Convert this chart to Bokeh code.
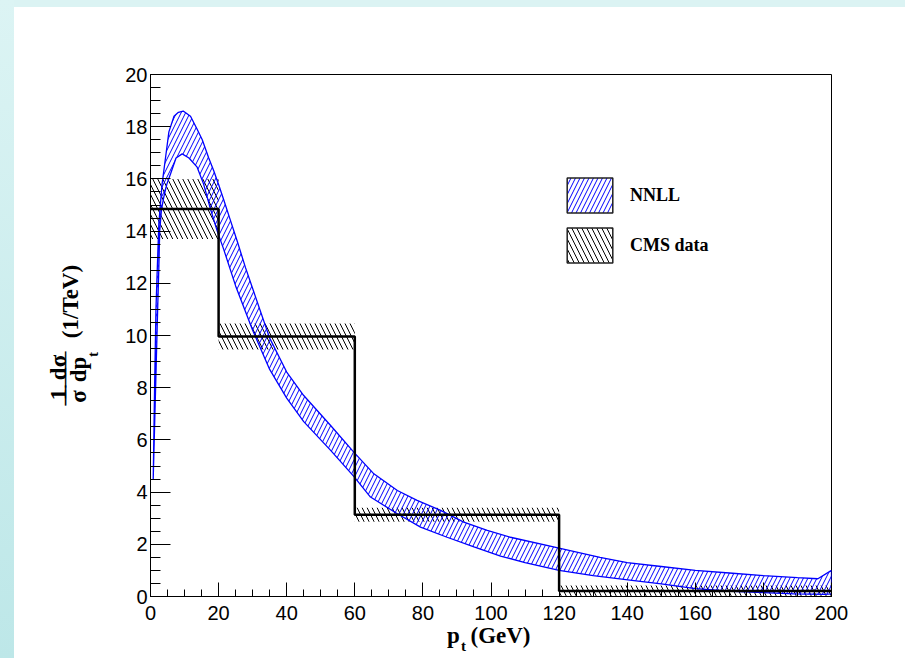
import numpy as np
from bokeh.plotting import figure
from bokeh.models import (Range1d, FixedTicker, Label, Legend, LegendItem,
                          GlobalInlineStyleSheet)
from bokeh.embed import file_html
from bokeh.resources import INLINE

# ---------------- data ----------------
cms_edges = [0, 20, 60, 120, 200]
cms_vals = [14.85, 9.96, 3.13, 0.21]
cms_errs = [1.15, 0.50, 0.27, 0.21]

nnll_pt_up = [0.8, 1.2, 1.6, 2.0, 2.45, 3.4, 4.4, 5.4, 6.9, 8.2, 9.6, 11.75, 13.7, 15.2,
              17.1, 18.6, 20.1, 21.5, 23.5, 25.5, 27.9, 30, 35, 40, 45, 52.9, 59.7, 65.6,
              72.5, 78.3, 85.2, 92, 98.9, 105.7, 120, 132, 140, 150, 160, 170, 180, 190,
              196, 200]
nnll_up = [4.5, 8.0, 11.0, 12.6, 14.3, 15.8, 16.8, 17.8, 18.4, 18.55, 18.6, 18.4, 17.9, 17.5,
           16.8, 16.3, 15.75, 15.2, 14.4, 13.6, 12.6, 11.8, 9.9, 8.6, 7.7, 6.55, 5.53, 4.70,
           4.06, 3.68, 3.30, 2.85, 2.53, 2.27, 1.85, 1.5, 1.3, 1.15, 1.0, 0.9, 0.8, 0.72,
           0.68, 1.0]
nnll_pt_lo = [0.8, 1.2, 1.7, 2.1, 2.45, 2.7, 3.2, 3.9, 4.8, 5.9, 7.5, 9.3, 11.3, 13.7, 15.6,
              17.6, 19.6, 21.5, 25, 30, 35, 40, 45, 52.9, 59.7, 64.6, 72.5, 79.3, 87.1, 95,
              102.8, 110, 120, 130, 142, 150, 160, 171, 180, 189, 198, 200]
nnll_lo = [4.5, 6.5, 9.0, 11.0, 12.6, 14.0, 14.8, 15.3, 15.8, 16.2, 16.8, 16.96, 16.8, 16.45,
           15.8, 14.85, 14.0, 13.3, 11.9, 10.2, 8.7, 7.6, 6.7, 5.6, 4.6, 3.81, 3.17, 2.66,
           2.27, 1.9, 1.55, 1.3, 1.0, 0.8, 0.61, 0.48, 0.3, 0.2, 0.15, 0.1, 0.08, 0.1]

x_ticks = [0, 20, 40, 60, 80, 100, 120, 140, 160, 180, 200]
x_tick_labels = ["0", "20", "40", "60", "80", "100", "120", "140", "160", "180", "200"]
y_ticks = [0, 2, 4, 6, 8, 10, 12, 14, 16, 18, 20]
y_tick_labels = ["0", "2", "4", "6", "8", "10", "12", "14", "16", "18", "20"]
legend_labels = ["NNLL", "CMS data"]

# ---------------- layout helpers (canvas pixels -> data coords for annotations) -------------
FX0, FX1 = 150.0, 831.0
FY0, FY1 = 596.0, 74.0
XMAX, YMAX = 200.0, 20.0


def px2x(px):
    return (px - FX0) / (FX1 - FX0) * XMAX


def py2y(py):
    return (FY0 - py) / (FY0 - FY1) * YMAX


W, H = 905, 658
p = figure(width=W, height=H, x_range=Range1d(0, XMAX), y_range=Range1d(0, YMAX),
           output_backend="svg", toolbar_location=None,
           min_border_left=int(FX0), min_border_right=int(W - FX1),
           min_border_top=int(FY1), min_border_bottom=int(H - FY0))
p.title.visible = False
p.border_fill_color = None
p.background_fill_color = "white"
p.outline_line_color = "black"
p.outline_line_width = 1
p.grid.visible = False

p.stylesheets = [GlobalInlineStyleSheet(css=(
    "html{min-height:100%;background:"
    "linear-gradient(to bottom,#dcf4f4,#bde7e8) 0 0/14px 100% no-repeat,"
    "linear-gradient(#dbf3f3,#dbf3f3) 0 0/100% 7px no-repeat,#ffffff;}"))]

# axes
p.xaxis.ticker = FixedTicker(ticks=x_ticks, minor_ticks=list(np.arange(0, 200.01, 5)))
p.yaxis.ticker = FixedTicker(ticks=y_ticks, minor_ticks=list(np.arange(0, 20.01, 0.5)))
p.xaxis.major_label_overrides = dict(zip(x_ticks, x_tick_labels))
p.yaxis.major_label_overrides = dict(zip(y_ticks, y_tick_labels))
for ax in (p.xaxis[0], p.yaxis[0]):
    ax.axis_line_color = "black"
    ax.major_tick_line_color = "black"
    ax.minor_tick_line_color = "black"
    ax.major_tick_out = 0
    ax.minor_tick_out = 0
    ax.major_label_text_font = "Liberation Sans"
    ax.major_label_text_font_size = "20px"
    ax.major_label_text_color = "black"
    ax.axis_label = None
p.xaxis.major_tick_in = 14
p.xaxis.minor_tick_in = 7
p.yaxis.major_tick_in = 20
p.yaxis.minor_tick_in = 10
p.xaxis.major_label_standoff = 9
p.yaxis.major_label_standoff = 3

# CMS data uncertainty (hatched)
e = np.array(cms_edges, dtype=float)
v = np.array(cms_vals)
er = np.array(cms_errs)
p.quad(left=e[:-1], right=e[1:], bottom=v - er, top=v + er, fill_alpha=0, line_alpha=0,
       hatch_pattern="\\", hatch_color="black", hatch_scale=10, hatch_weight=1)

# NNLL band
band_x = list(nnll_pt_up) + list(nnll_pt_lo[::-1])
band_y = list(nnll_up) + list(nnll_lo[::-1])
p.patch(band_x, band_y, fill_alpha=0, line_color="#0000ff", line_width=1.3,
        hatch_pattern="/", hatch_color="#0000ff", hatch_scale=9, hatch_weight=1)

# CMS step line
step_x = np.repeat(e, 2)[1:-1]
step_y = np.repeat(v, 2)
p.line(step_x, step_y, line_color="black", line_width=2.5)

# legend proxies
nan = [np.nan]
proxy_n = p.quad(left=nan, right=nan, top=nan, bottom=nan, fill_alpha=0,
                 line_color="#222222", line_width=1.5, hatch_pattern="/",
                 hatch_color="#0000ff", hatch_scale=9)
proxy_c = p.quad(left=nan, right=nan, top=nan, bottom=nan, fill_alpha=0,
                 line_color="#222222", line_width=1.5, hatch_pattern="\\",
                 hatch_color="black", hatch_scale=10)
legend = Legend(items=[LegendItem(label=legend_labels[0], renderers=[proxy_n]),
                       LegendItem(label=legend_labels[1], renderers=[proxy_c])],
                location=(411, 329), glyph_width=57, glyph_height=44, spacing=6,
                padding=0, margin=0, label_standoff=12,
                label_text_font="Liberation Serif", label_text_font_style="bold",
                label_text_font_size="18px", label_text_color="black",
                background_fill_alpha=0, border_line_alpha=0)
p.add_layout(legend)

# axis titles: text annotations in data units, parked in side panels (unclipped);
# the panels are chosen so that their reserved sizes fit inside the borders.
SERIF = "Liberation Serif"
DY = 7   # measured offset of rendered baselines (horizontal text)
DX = 7   # same for rotated text (includes a small leftward nudge)


def add_label(text, px, py, size, side, angle=0.0, align="center", baseline="alphabetic"):
    p.add_layout(Label(x=px2x(px), y=py2y(py), text=text, angle=angle,
                       text_font=SERIF, text_font_style="bold",
                       text_font_size=f"{size}px", text_color="black",
                       text_align=align, text_baseline=baseline), side)


# x title: p_t (GeV)
add_label("p", 453, 642 - DY, 23, "above")
add_label("t", 463, 652 - DY, 15, "below")
add_label("(GeV)", 470, 642 - DY, 23, "above", align="left")

# y title: 1/sigma dsigma/dp_t (1/TeV), rotated
R = np.pi / 2
add_label("1", 65 - DX, 394, 23, "left", angle=R)
add_label("σ", 85 - DX, 396, 23, "left", angle=R)
add_label("dσ", 65 - DX, 367, 23, "left", angle=R)
add_label("dp", 85 - DX, 369, 23, "left", angle=R)
add_label("t", 99 - DX, 354, 15, "left", angle=R)
add_label("(1/TeV)", 77 - DX, 301, 23, "right", angle=R)
# fraction bars
add_label("—", 63.5, 395, 20, "right", angle=R)
add_label("——", 63, 369, 18, "right", angle=R)

open("out.html", "w").write(file_html(p, INLINE))
